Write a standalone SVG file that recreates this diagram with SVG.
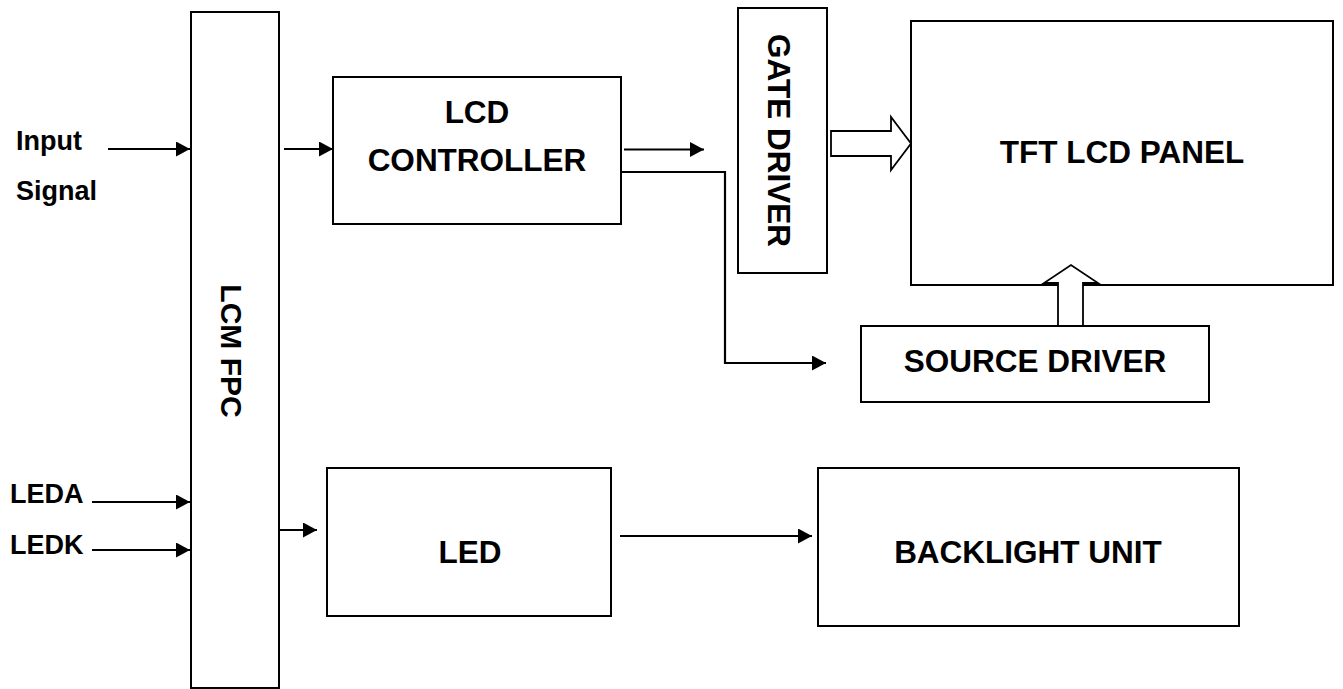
<svg xmlns="http://www.w3.org/2000/svg" width="1343" height="689" viewBox="0 0 1343 689">
<style>
.box{fill:#fff;stroke:#000;stroke-width:2}
.t{font-family:"Liberation Sans",Arial,sans-serif;font-weight:bold;font-size:31.5px;fill:#000;text-anchor:middle}
.s{font-family:"Liberation Sans",Arial,sans-serif;font-weight:bold;font-size:27px;fill:#000}
.ln{fill:none;stroke:#000;stroke-width:2.2}
.hol{fill:#fff;stroke:#000;stroke-width:1.8;stroke-linejoin:miter}
</style>
<defs>
<marker id="ah" markerWidth="14" markerHeight="15" refX="14" refY="7.5" orient="auto" markerUnits="userSpaceOnUse">
<path d="M0,0 L14,7.5 L0,15 Z" fill="#000"/>
</marker>
</defs>
<rect width="1343" height="689" fill="#fff"/>
<g id="lcm-fpc">
<rect class="box" x="191" y="12" width="88" height="676"/>
<text class="t" font-size="30" transform="translate(221,351) rotate(90)" style="font-size:30px">LCM FPC</text>
</g>
<g id="lcd-controller">
<rect class="box" x="333" y="77" width="288" height="147"/>
<text class="t" x="477" y="123">LCD</text>
<text class="t" x="477" y="171">CONTROLLER</text>
</g>
<g id="gate-driver">
<rect class="box" x="738" y="8" width="89" height="265"/>
<text class="t" transform="translate(768,140.5) rotate(90)">GATE DRIVER</text>
</g>
<g id="tft-panel">
<rect class="box" x="911" y="21" width="422" height="264"/>
<text class="t" x="1122" y="163">TFT LCD PANEL</text>
</g>
<g id="source-driver">
<rect class="box" x="861" y="326" width="348" height="76"/>
<text class="t" x="1035" y="372">SOURCE DRIVER</text>
</g>
<g id="led">
<rect class="box" x="327" y="468" width="284" height="148"/>
<text class="t" x="470" y="563">LED</text>
</g>
<g id="backlight">
<rect class="box" x="818" y="468" width="421" height="158"/>
<text class="t" x="1028" y="563">BACKLIGHT UNIT</text>
</g>
<g id="labels">
<text class="s" x="16" y="150">Input</text>
<text class="s" x="16" y="200">Signal</text>
<text class="s" x="10" y="503">LEDA</text>
<text class="s" x="10" y="554">LEDK</text>
</g>
<g id="connectors">
<line class="ln" x1="108" y1="149" x2="190" y2="149" marker-end="url(#ah)"/>
<line class="ln" x1="284" y1="149" x2="333" y2="149" marker-end="url(#ah)"/>
<line class="ln" x1="624" y1="149.5" x2="704" y2="149.5" marker-end="url(#ah)"/>
<polyline class="ln" points="621,172 725,172 725,363 826,363" marker-end="url(#ah)"/>
<line class="ln" x1="92" y1="502" x2="190" y2="502" marker-end="url(#ah)"/>
<line class="ln" x1="92" y1="550" x2="190" y2="550" marker-end="url(#ah)"/>
<line class="ln" x1="280" y1="530" x2="317" y2="530" marker-end="url(#ah)"/>
<line class="ln" x1="620" y1="536" x2="812" y2="536" marker-end="url(#ah)"/>
<polygon class="hol" points="831,131 891,131 891,117 911,143.5 891,170 891,156 831,156"/>
<polygon class="hol" points="1058,326 1058,283 1044,283 1071,265 1098,283 1083,283 1083,326"/>
</g>
</svg>
